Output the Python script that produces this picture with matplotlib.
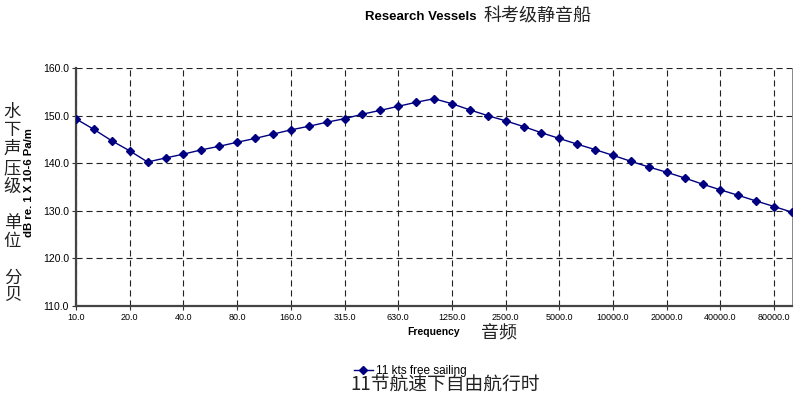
import matplotlib
matplotlib.use("Agg")
import matplotlib.pyplot as plt
import numpy as np

# third-octave band centre frequencies (Hz)
freqs = [10, 12.5, 16, 20, 25, 31.5, 40, 50, 63, 80, 100, 125, 160, 200, 250,
         315, 400, 500, 630, 800, 1000, 1250, 1600, 2000, 2500, 3150, 4000,
         5000, 6300, 8000, 10000, 12500, 16000, 20000, 25000, 31500, 40000,
         50000, 63000, 80000, 100000]
levels = [149.3, 147.1, 144.7, 142.6, 140.25, 141.1, 141.9, 142.8, 143.55, 144.4,
          145.2, 146.1, 147.0, 147.75, 148.6, 149.35, 150.3, 151.1, 151.95, 152.8,
          153.55, 152.5, 151.2, 150.0, 148.9, 147.7, 146.4, 145.2, 144.0, 142.85,
          141.65, 140.4, 139.2, 138.1, 136.9, 135.6, 134.4, 133.25, 132.05, 130.9,
          129.7]
tick_labels = ["10.0", "20.0", "40.0", "80.0", "160.0", "315.0", "630.0", "1250.0",
               "2500.0", "5000.0", "10000.0", "20000.0", "40000.0", "80000.0"]
y_ticks = [110, 120, 130, 140, 150, 160]
series_name = "11 kts free sailing"

LAT = "Liberation Sans"
CJK = ["Noto Sans CJK SC", "DejaVu Sans"]

fig = plt.figure(figsize=(8.0, 3.98), dpi=100)
W, H = 800, 398
ax = fig.add_axes([76 / W, 1 - 306 / H, (792 - 76) / W, (306 - 68) / H])

x = np.arange(len(freqs))
line, = ax.plot(x, levels, color="#000080", lw=1.0, marker="D", markersize=4.2,
                markerfacecolor="#000080", markeredgecolor="#000080", zorder=5)

ax.set_xlim(0, len(freqs) - 1)
ax.set_ylim(110, 160)
ax.set_xticks(x[::3])
ax.set_xticklabels(tick_labels, fontfamily=LAT, fontsize=6.5)
ax.set_yticks(y_ticks)
ax.set_yticklabels([f"{v:.1f}" for v in y_ticks], fontfamily=LAT, fontsize=7.5)
ax.tick_params(axis="both", direction="out", length=3, width=0.8, color="#333333", pad=2)

ax.grid(True, color="#222222", lw=0.8, linestyle=(0, (5.5, 3.5)))
ax.set_axisbelow(True)
for s in ["left", "bottom"]:
    ax.spines[s].set_linewidth(1.6)
    ax.spines[s].set_color("#444444")
ax.spines["top"].set_visible(False)
ax.spines["right"].set_linewidth(0.7)
ax.spines["right"].set_color("#888888")

# y-axis label
fig.text(29.5 / W, 1 - 183 / H, "dB re. 1 X 10-6 Pa/m", rotation=90, ha="center",
         va="center", fontfamily=LAT, fontweight="bold", fontsize=8.2)
# vertical Chinese label
cn_chars = ["水", "下", "声", "压", "级", "单", "位", "分", "贝"]
cn_y = [111.7, 130, 149, 168, 187, 222.7, 240.7, 278, 295]
for ch, yy in zip(cn_chars, cn_y):
    fig.text(12.5 / W, 1 - yy / H, ch, ha="center", va="center", family=CJK,
             fontsize=12.5, color="#222222")

# title
fig.text(477 / W, 1 - 17 / H, "Research Vessels", ha="right", va="center",
         fontfamily=LAT, fontweight="bold", fontsize=9.5)
fig.text(484 / W, 1 - 17 / H, "科考级静音船", ha="left", va="center", family=CJK,
         fontsize=13, color="#222222")

# x-axis label
fig.text(434 / W, 1 - 332 / H, "Frequency", ha="center", va="center",
         fontfamily=LAT, fontweight="bold", fontsize=7.5)
fig.text(481 / W, 1 - 333 / H, "音频", ha="left", va="center", family=CJK,
         fontsize=13, color="#222222")

# legend
fig.legend([line], [series_name], loc="center left",
           bbox_to_anchor=(354 / W, 1 - 371 / H), frameon=False,
           prop={"family": LAT, "size": 8.5}, handlelength=1.6, handletextpad=0.3,
           borderaxespad=0, borderpad=0)
fig.text(350 / W, 1 - 385 / H, "11节航速下自由航行时", ha="left", va="center",
         family=CJK, fontsize=13.5, color="#222222")

fig.savefig("out.png", dpi=100)
